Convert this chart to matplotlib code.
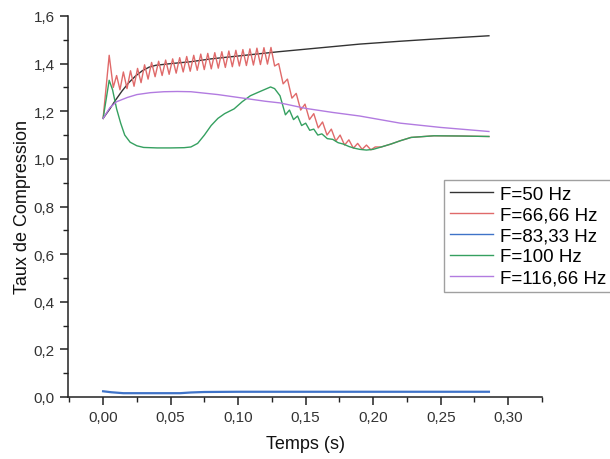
import numpy as np
import matplotlib
matplotlib.use("Agg")
import matplotlib.pyplot as plt
from matplotlib.ticker import MultipleLocator, FuncFormatter

plt.rcParams['font.family'] = ['Liberation Sans', 'DejaVu Sans']

# values
t_50 = [0.000, 0.005, 0.009, 0.014, 0.019, 0.024, 0.029, 0.034, 0.039, 0.050,
        0.065, 0.080, 0.100, 0.130, 0.160, 0.190, 0.220, 0.250, 0.2857]
v_50 = [1.170, 1.210, 1.245, 1.285, 1.320, 1.348, 1.370, 1.385, 1.393, 1.400,
        1.408, 1.420, 1.432, 1.450, 1.466, 1.482, 1.494, 1.505, 1.517]

t_66 = [0.000, 0.0045, 0.0075, 0.0100, 0.0125, 0.0150, 0.0177, 0.0203, 0.0229,
        0.0255, 0.0281, 0.0307, 0.0333, 0.0359, 0.0385, 0.0411, 0.0437, 0.0463,
        0.0489, 0.0515, 0.0541, 0.0567, 0.0593, 0.0619, 0.0645, 0.0671, 0.0697,
        0.0723, 0.0749, 0.0775, 0.0801, 0.0827, 0.0853, 0.0879, 0.0905, 0.0931,
        0.0957, 0.0983, 0.1009, 0.1035, 0.1061, 0.1087, 0.1113, 0.1139, 0.1165,
        0.1191, 0.1217, 0.1243, 0.1270, 0.1300, 0.1333, 0.1365, 0.1398, 0.1430,
        0.1463, 0.1495, 0.1528, 0.1560, 0.1593, 0.1625, 0.1658, 0.1690, 0.1723,
        0.1755, 0.1788, 0.1820, 0.1853, 0.1885, 0.1918, 0.1950, 0.1983, 0.2015,
        0.2060, 0.2130, 0.2200, 0.2280, 0.2450, 0.2650, 0.2857]
v_66 = [1.170, 1.435, 1.300, 1.350, 1.290, 1.365, 1.295, 1.370, 1.305,
        1.380, 1.320, 1.395, 1.335, 1.405, 1.345, 1.410, 1.350, 1.415,
        1.355, 1.420, 1.360, 1.425, 1.365, 1.430, 1.368, 1.435, 1.372,
        1.440, 1.375, 1.443, 1.378, 1.446, 1.381, 1.450, 1.384, 1.453,
        1.387, 1.456, 1.390, 1.459, 1.392, 1.462, 1.394, 1.465, 1.396,
        1.467, 1.398, 1.468, 1.390, 1.400, 1.315, 1.335, 1.255, 1.275,
        1.205, 1.230, 1.165, 1.190, 1.130, 1.155, 1.100, 1.125, 1.075,
        1.100, 1.058, 1.080, 1.045, 1.065, 1.040, 1.058, 1.038, 1.050,
        1.050, 1.062, 1.076, 1.090, 1.097, 1.096, 1.094]

t_83 = [0.000, 0.006, 0.015, 0.030, 0.057, 0.065, 0.075, 0.100, 0.150, 0.200, 0.2857]
v_83 = [0.024, 0.020, 0.016, 0.016, 0.016, 0.019, 0.021, 0.022, 0.022, 0.022, 0.022]

t_100 = [0.000, 0.0045, 0.0070, 0.0100, 0.0130, 0.0160, 0.0200, 0.0250, 0.0300,
         0.0400, 0.0500, 0.0600, 0.0650, 0.0700, 0.0750, 0.0800, 0.0850, 0.0900,
         0.0970, 0.1030, 0.1090, 0.1150, 0.1240, 0.1270, 0.1310, 0.1350, 0.1380,
         0.1410, 0.1440, 0.1470, 0.1500, 0.1530, 0.1560, 0.1590, 0.1620, 0.1660,
         0.1700, 0.1740, 0.1780, 0.1820, 0.1860, 0.1900, 0.1950, 0.2000, 0.2060,
         0.2130, 0.2200, 0.2280, 0.2450, 0.2650, 0.2857]
v_100 = [1.170, 1.330, 1.290, 1.210, 1.150, 1.100, 1.070, 1.055, 1.048,
         1.046, 1.046, 1.047, 1.050, 1.065, 1.100, 1.140, 1.170, 1.190,
         1.210, 1.240, 1.265, 1.280, 1.302, 1.295, 1.265, 1.185, 1.205,
         1.165, 1.180, 1.140, 1.150, 1.120, 1.125, 1.100, 1.105, 1.085,
         1.082, 1.068, 1.062, 1.052, 1.045, 1.040, 1.037, 1.040, 1.050,
         1.062, 1.076, 1.090, 1.097, 1.096, 1.094]

t_116 = [0.000, 0.005, 0.010, 0.018, 0.025, 0.035, 0.045, 0.055, 0.065, 0.075,
         0.085, 0.100, 0.110, 0.120, 0.131, 0.150, 0.170, 0.190, 0.220, 0.250, 0.2857]
v_116 = [1.170, 1.215, 1.240, 1.258, 1.270, 1.278, 1.282, 1.283, 1.282, 1.276,
         1.270, 1.258, 1.250, 1.242, 1.235, 1.212, 1.195, 1.180, 1.150, 1.132, 1.115]

labels = ['F=50 Hz', 'F=66,66 Hz', 'F=83,33 Hz', 'F=100 Hz', 'F=116,66 Hz']
colors = ['#333333', '#e06a6a', '#3f73c8', '#35a060', '#b27be0']

fig = plt.figure(figsize=(6.1, 4.6), dpi=100)
ax = fig.add_axes([68/610, 1-398/460, (542-68)/610, (398-17)/460])

series = [(t_50, v_50), (t_66, v_66), (t_83, v_83), (t_100, v_100), (t_116, v_116)]
lines = []
for (t, v), lab, c in zip(series, labels, colors):
    lw = 1.6 if lab == 'F=83,33 Hz' else 1.0
    ax.plot(t, v, color=c, lw=lw)
    # thin handle for the legend
    l, = ax.plot([], [], color=c, lw=1.0, label=lab)
    lines.append(l)

ax.set_xlim(-0.026, 0.325)
ax.set_ylim(0, 1.6)
ax.xaxis.set_major_locator(MultipleLocator(0.05))
ax.xaxis.set_minor_locator(MultipleLocator(0.025))
ax.yaxis.set_major_locator(MultipleLocator(0.2))
ax.yaxis.set_minor_locator(MultipleLocator(0.1))
ax.xaxis.set_major_formatter(FuncFormatter(lambda v, p: f"{v:.2f}".replace('.', ',')))
ax.yaxis.set_major_formatter(FuncFormatter(lambda v, p: f"{v:.1f}".replace('.', ',')))
ax.spines['top'].set_visible(False)
ax.spines['right'].set_visible(False)
for s in ['left', 'bottom']:
    ax.spines[s].set_linewidth(1.1)
    ax.spines[s].set_color('#222222')
ax.tick_params(which='major', direction='out', length=6, width=1.1, labelsize=11, colors='#222222')
ax.tick_params(which='minor', direction='out', length=3.5, width=1.0, colors='#222222')
ax.tick_params(labelcolor='#333333')

ax.set_xlabel('Temps (s)', fontsize=13, color='#111111', labelpad=8)
ax.set_ylabel('Taux de Compression', fontsize=13, color='#111111', labelpad=2)

leg = fig.legend(handles=lines, loc='upper left', bbox_to_anchor=(444/610, 1-181/460),
                 fontsize=13.5, frameon=True, fancybox=False, edgecolor='#888888',
                 handlelength=2.3, handletextpad=0.4, labelspacing=0.2,
                 borderpad=0.3, borderaxespad=0)
leg.get_frame().set_linewidth(1.0)

fig.savefig('out.png', dpi=100)
